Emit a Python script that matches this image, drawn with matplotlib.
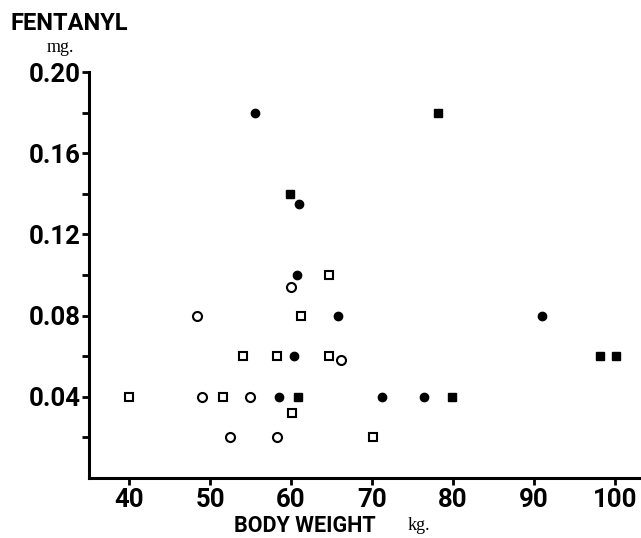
import matplotlib
matplotlib.use("Agg")
import matplotlib.pyplot as plt

# body weight (kg) vs fentanyl dose (mg), four symbol groups
filled_circle_wt = [55.6, 61.0, 60.7, 65.8, 91.0, 60.4, 58.5, 71.2, 76.4]
filled_circle_mg = [0.18, 0.135, 0.10, 0.08, 0.08, 0.06, 0.04, 0.04, 0.04]

filled_square_wt = [78.1, 59.9, 98.1, 100.1, 60.9, 79.9]
filled_square_mg = [0.18, 0.14, 0.06, 0.06, 0.04, 0.04]

open_square_wt = [64.7, 61.2, 54.1, 58.3, 64.7, 40.0, 51.6, 60.1, 70.1]
open_square_mg = [0.10, 0.08, 0.06, 0.06, 0.06, 0.04, 0.04, 0.032, 0.02]

open_circle_wt = [48.4, 60.0, 66.2, 49.0, 54.9, 52.5, 58.3]
open_circle_mg = [0.08, 0.094, 0.058, 0.04, 0.04, 0.02, 0.02]

x_ticks = [40, 50, 60, 70, 80, 90, 100]
y_ticks = [0.04, 0.08, 0.12, 0.16, 0.20]
y_labels = ["0.04", "0.08", "0.12", "0.16", "0.20"]
y_minor = [0.02, 0.06, 0.10, 0.14, 0.18]

LABEL_FONT = ["Roboto", "DejaVu Sans"]

fig = plt.figure(figsize=(6.41, 5.38), dpi=100)
ax = fig.add_axes([0.1388, 0.1115, 0.861, 0.7546])

ax.plot(filled_circle_wt, filled_circle_mg, ls="none", marker="o", ms=6,
        mfc="black", mec="black", clip_on=False)
ax.plot(filled_square_wt, filled_square_mg, ls="none", marker="s", ms=6,
        mfc="black", mec="black", clip_on=False)
ax.plot(open_square_wt, open_square_mg, ls="none", marker="s", ms=5.5,
        mfc="white", mec="black", mew=1.5, clip_on=False)
ax.plot(open_circle_wt, open_circle_mg, ls="none", marker="o", ms=6.5,
        mfc="white", mec="black", mew=1.5, clip_on=False)

ax.set_xlim(35.05, 103.2)
ax.set_ylim(0, 0.20)

for side in ("top", "right"):
    ax.spines[side].set_visible(False)
for side in ("left", "bottom"):
    ax.spines[side].set_linewidth(2.2)

ax.set_xticks(x_ticks)
ax.set_xticklabels([str(t) for t in x_ticks])
ax.set_yticks(y_ticks)
ax.set_yticklabels(y_labels)
ax.set_yticks(y_minor, minor=True)

ax.tick_params(axis="both", which="both", direction="out", width=2, length=5)
ax.tick_params(axis="x", pad=2)
ax.tick_params(axis="y", pad=1)
for lab in ax.get_xticklabels() + ax.get_yticklabels():
    lab.set_fontfamily(LABEL_FONT)
    lab.set_fontweight("bold")
    lab.set_fontsize(18.5)

fig.text(10 / 641, 1 - 24 / 538, "FENTANYL", fontfamily=LABEL_FONT,
         fontweight="bold", fontsize=17, ha="left", va="center")
fig.text(60 / 641, 1 - 48 / 538, "mg.", fontfamily="Liberation Serif",
         fontsize=13, ha="center", va="center")
fig.text(305 / 641, 1 - 526 / 538, "BODY WEIGHT", fontfamily=LABEL_FONT,
         fontweight="bold", fontsize=15.5, ha="center", va="center")
fig.text(419 / 641, 1 - 526 / 538, "kg.", fontfamily="Liberation Serif",
         fontsize=13, ha="center", va="center")

fig.savefig("out.png", dpi=100)
